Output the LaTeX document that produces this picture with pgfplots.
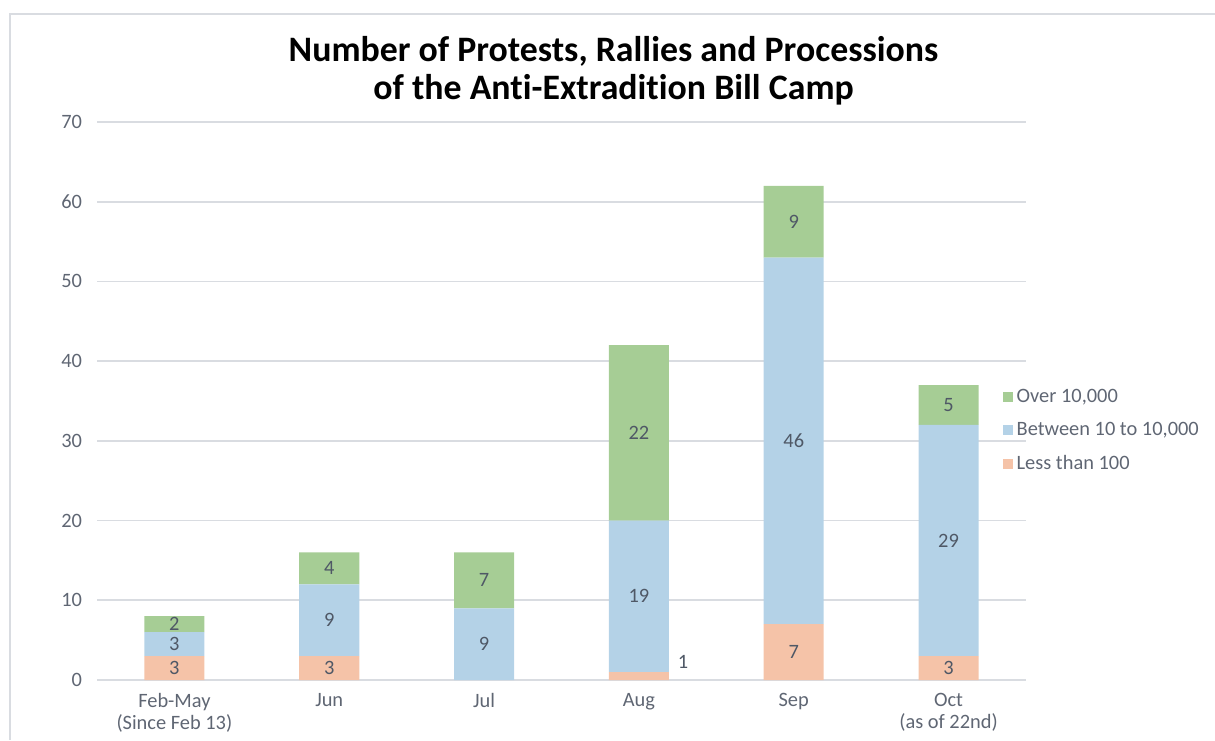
\documentclass[border=0pt]{standalone}
\usepackage{pgfplots}
\pgfplotsset{compat=1.18}
\usepackage{fontspec}
\setmainfont[Ligatures=NoCommon]{Carlito}
\definecolor{cgreen}{HTML}{A6CD95}
\definecolor{cblue}{HTML}{B4D2E7}
\definecolor{corange}{HTML}{F5C3A8}
\definecolor{ctick}{HTML}{5F6673}
\definecolor{clabel}{HTML}{4F5866}
\definecolor{cgrid}{HTML}{D9DCE1}
\newcommand{\lblfont}{\fontsize{10.2}{11}\selectfont}
\pgfplotstableread{
x y l
0 1.5 3
0 4.5 3
0 7 2
1 1.5 3
1 7.5 9
1 14 4
2 4.5 9
2 12.5 7
3.285 2.3 1
3 10.5 19
3 31 22
4 3.5 7
4 30 46
4 57.5 9
5 1.5 3
5 17.5 29
5 34.5 5
}\labels
\begin{document}
\begin{tikzpicture}
\useasboundingbox (0,0) rectangle (607.5pt,370pt);
\draw[cgrid, line width=1pt] (5pt,0) -- (5pt,363pt) -- (607.5pt,363pt);
\node[font=\bfseries\fontsize{17.9}{19}\selectfont, align=center] at (306.75pt,334.5pt)
  {Number of Protests, Rallies and Processions\\of the Anti-Extradition Bill Camp};
\begin{axis}[
  at={(48.5pt,30pt)}, anchor=south west, scale only axis,
  width=464.5pt, height=279pt,
  ybar stacked, bar width=30pt,
  xmin=-0.5, xmax=5.5, ymin=0, ymax=70,
  ytick={0,10,...,70}, xtick={0,...,5},
  xticklabels={{Feb-May\\(Since Feb 13)},Jun,Jul,Aug,Sep,{Oct\\(as of 22nd)}},
  /pgf/number format/assume math mode=true,
  axis x line*=bottom, axis y line*=left,
  y axis line style={draw=none},
  x axis line style={cgrid, line width=0.8pt},
  ymajorgrids, grid style={cgrid, line width=0.8pt},
  major tick length=0pt,
  tick label style={font=\lblfont, text=ctick},
  xticklabel style={align=center, yshift=-3pt},
  yticklabel style={xshift=-4pt},
  reverse legend,
  legend cell align=left,
  legend style={draw=none, fill=none, at={(0.968,0.536)}, anchor=north west,
    font=\lblfont, text=ctick, row sep=4.4pt,
    /tikz/every even column/.append style={column sep=0pt}},
  legend image code/.code={\fill[#1] (0pt,-2.5pt) rectangle (5pt,2.5pt);},
]
\addplot[fill=corange, draw=none] coordinates {(0,3) (1,3) (2,0) (3,1) (4,7) (5,3)};
\addplot[fill=cblue, draw=none] coordinates {(0,3) (1,9) (2,9) (3,19) (4,46) (5,29)};
\addplot[fill=cgreen, draw=none] coordinates {(0,2) (1,4) (2,7) (3,22) (4,9) (5,5)};
\legend{Less than 100, Between 10 to 10{,}000, Over 10{,}000}
\end{axis}
\begin{axis}[
  at={(48.5pt,30pt)}, anchor=south west, scale only axis,
  width=464.5pt, height=279pt,
  xmin=-0.5, xmax=5.5, ymin=0, ymax=70, hide axis]
\addplot[draw=none, mark=none, nodes near coords, point meta=explicit symbolic,
  every node near coord/.style={anchor=center, font=\lblfont, text=clabel}]
  table[x=x, y=y, meta=l] {\labels};
\end{axis}
\end{tikzpicture}
\end{document}
